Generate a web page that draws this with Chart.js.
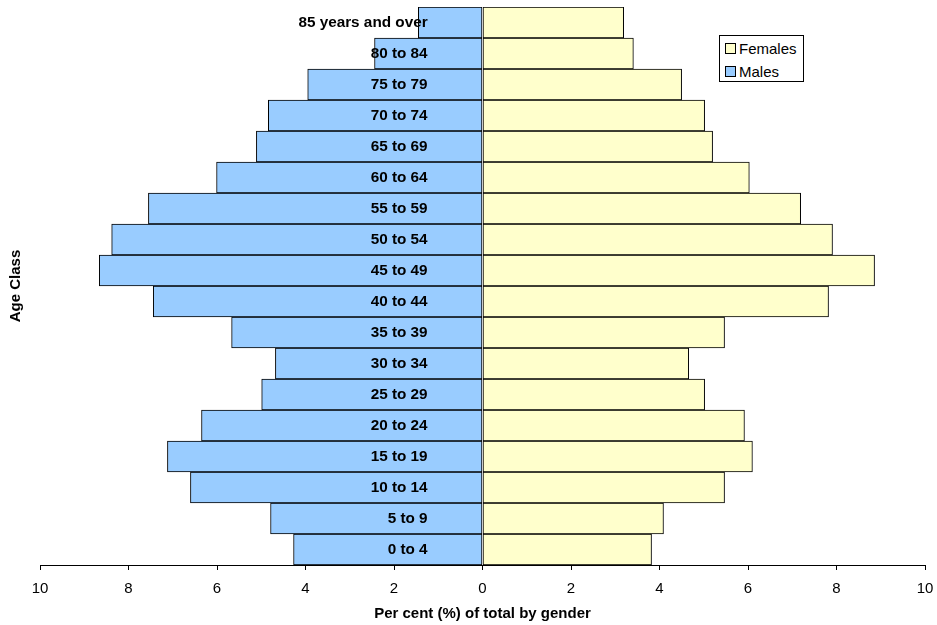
<!DOCTYPE html>
<html>
<head>
<meta charset="utf-8">
<script src="https://cdn.jsdelivr.net/npm/chart.js@4.4.1/dist/chart.umd.min.js"></script>
<style>
  html, body { margin: 0; padding: 0; background: #fff; }
  #wrap { position: relative; width: 937px; height: 625px; }
  canvas { display: block; }
  #legend { position: absolute; left: 719px; top: 35px; width: 85px; height: 47px; box-sizing: border-box;
            border: 1px solid #000; background: #fff; font-family: "Liberation Sans", Arial, sans-serif; font-size: 15px; color: #000; }
  .item { position: absolute; left: 5px; height: 17px; line-height: 17px; }
  .sw { position: absolute; left: 0; top: 3px; width: 9px; height: 9px; border: 1px solid #000; }
  .lbl { position: absolute; left: 14px; top: 0; white-space: nowrap; }
</style>
</head>
<body>
<div id="wrap">
  <canvas id="c" width="937" height="625"></canvas>
  <div id="legend">
    <div class="item" style="top:4px"><span class="sw" style="background:#FFFFCC"></span><span class="lbl">Females</span></div>
    <div class="item" style="top:27px"><span class="sw" style="background:#99CCFF"></span><span class="lbl">Males</span></div>
  </div>
</div>
<script>
const ageClasses = ["0 to 4","5 to 9","10 to 14","15 to 19","20 to 24","25 to 29","30 to 34","35 to 39","40 to 44","45 to 49","50 to 54","55 to 59","60 to 64","65 to 69","70 to 74","75 to 79","80 to 84","85 years and over"];
const malesPct   = [4.27, 4.79, 6.60, 7.12, 6.35, 4.99, 4.68, 5.67, 7.44, 8.66, 8.38, 7.55, 6.01, 5.11, 4.84, 3.95, 2.44, 1.45];
const femalesPct = [3.82, 4.09, 5.47, 6.10, 5.92, 5.02, 4.66, 5.47, 7.82, 8.86, 7.91, 7.19, 6.03, 5.20, 5.02, 4.50, 3.41, 3.19];
const xTicks = [-10, -8, -6, -4, -2, 0, 2, 4, 6, 8, 10];

const FONT = "'Liberation Sans', Arial, sans-serif";

new Chart(document.getElementById('c'), {
  type: 'bar',
  data: {
    labels: ageClasses,
    datasets: [
      { label: 'Males', data: malesPct.map(v => -v), backgroundColor: '#99CCFF', borderColor: '#000', borderWidth: 1, borderSkipped: false, barPercentage: 1, categoryPercentage: 1 },
      { label: 'Females', data: femalesPct, backgroundColor: '#FFFFCC', borderColor: '#000', borderWidth: 1, borderSkipped: false, barPercentage: 1, categoryPercentage: 1 }
    ]
  },
  options: {
    indexAxis: 'y',
    responsive: false,
    animation: false,
    layout: { padding: { top: 7, right: 12, bottom: 0, left: 0 } },
    plugins: { legend: { display: false }, tooltip: { enabled: false } },
    scales: {
      x: {
        type: 'linear', stacked: true, min: -10, max: 10,
        afterBuildTicks: s => { s.ticks = xTicks.map(v => ({ value: v })); },
        afterFit: s => { s.height = 60; s.paddingLeft = 0; s.paddingRight = 0; },
        ticks: { color: '#000', font: { family: FONT, size: 15 }, padding: 10, maxRotation: 0, callback: v => String(Math.abs(v)) },
        grid: { drawOnChartArea: false, drawTicks: true, tickLength: 5, color: '#000', lineWidth: 1 },
        border: { display: true, color: '#000', width: 1 },
        title: { display: true, text: 'Per cent (%) of total by gender', color: '#000', font: { family: FONT, size: 15, weight: 'bold' }, padding: { top: 4, bottom: 2 } }
      },
      y: {
        type: 'category', stacked: true, reverse: true,
        position: { x: -1.24 },
        afterFit: s => { s.paddingTop = 0; s.paddingBottom = 0; },
        ticks: { z: 1, color: '#000', font: { family: FONT, size: 15.3, weight: 'bold' }, padding: 0, autoSkip: false, maxRotation: 0, minRotation: 0 },
        grid: { display: false, drawTicks: false },
        border: { display: false }
      },
      y2: {
        type: 'category', position: 'left', labels: ageClasses, reverse: true,
        afterFit: s => { s.width = 40; s.paddingTop = 0; s.paddingBottom = 0; },
        ticks: { display: false },
        grid: { display: false, drawTicks: false },
        border: { display: false },
        title: { display: true, text: 'Age Class', color: '#000', font: { family: FONT, size: 15, weight: 'bold' }, padding: { top: 7, bottom: 4 } }
      }
    }
  }
});
</script>
</body>
</html>
